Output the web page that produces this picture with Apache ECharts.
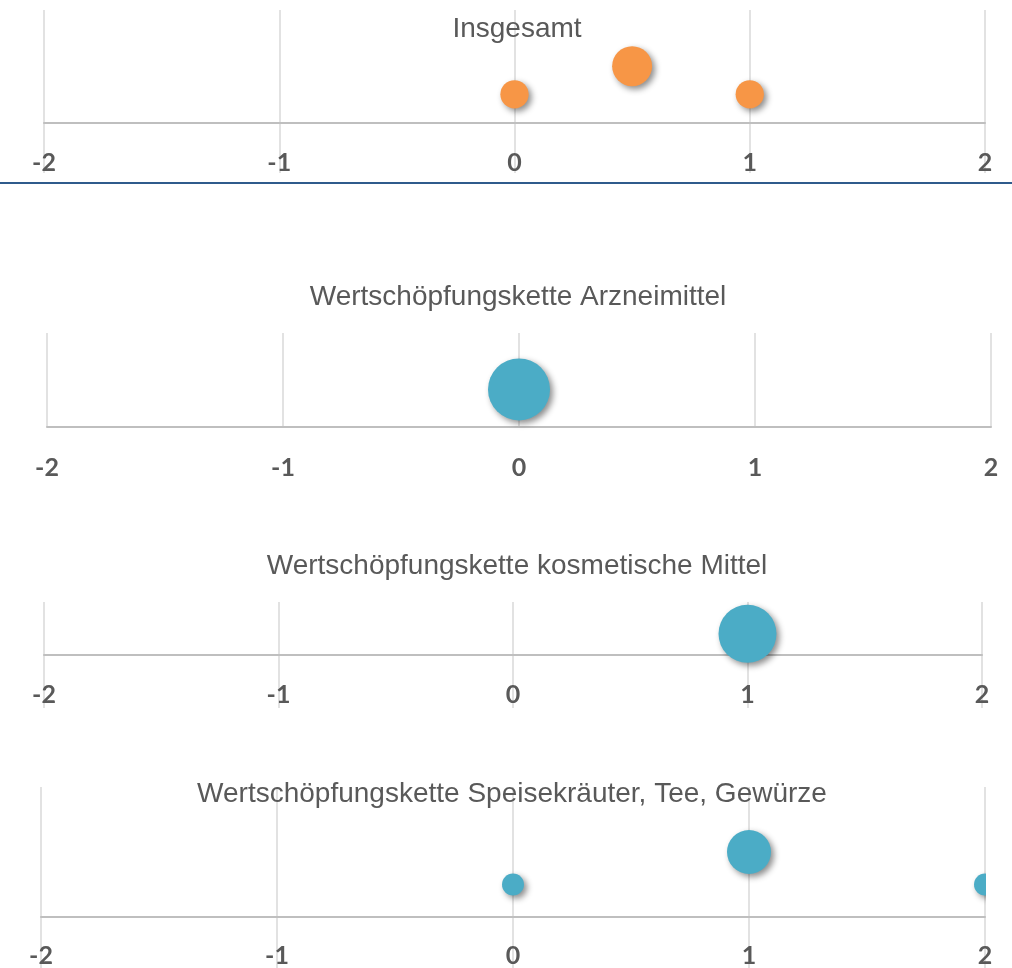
<!DOCTYPE html>
<html>
<head>
<meta charset="utf-8">
<script src="https://cdn.jsdelivr.net/npm/echarts@6/dist/echarts.min.js"></script>
<style>
  html, body { margin: 0; padding: 0; background: #fff; }
  #chart { width: 1012px; height: 968px; }
</style>
</head>
<body>
<div id="chart"></div>
<script>
// Daten
var titles = [
  "Insgesamt",
  "Wertschöpfungskette Arzneimittel",
  "Wertschöpfungskette kosmetische Mittel",
  "Wertschöpfungskette Speisekräuter, Tee, Gewürze"
];
var xTicks = [-2, -1, 0, 1, 2];

var insgesamtX = [0, 0.5, 1];
var insgesamtY = [1, 2, 1];
var insgesamtSize = [1, 2, 1];

var arzneiX = [0];
var arzneiY = [1];
var arzneiSize = [1];

var kosmetikX = [1];
var kosmetikY = [1];
var kosmetikSize = [1];

var speiseX = [0, 1, 2];
var speiseY = [1, 2, 1];
var speiseSize = [1, 4, 1];

var myChart = echarts.init(document.getElementById("chart"));

// Layout je Panel (margin relativ zum unteren Rand des grids)
var panels = [
  { x: insgesamtX, y: insgesamtY, s: insgesamtSize, color: "#F79646",
    grid: { left: 44, top: 10, width: 941, height: 163 }, ymin: -1.8, ymax: 4,
    maxD: 40, titleTop: 15, titleX: 517, margin: -23 },
  { x: arzneiX, y: arzneiY, s: arzneiSize, color: "#4BACC6",
    grid: { left: 47, top: 333, width: 944, height: 94 }, ymin: 0, ymax: 2.5,
    maxD: 62, titleTop: 283, titleX: 518, margin: 28 },
  { x: kosmetikX, y: kosmetikY, s: kosmetikSize, color: "#4BACC6",
    grid: { left: 44, top: 602, width: 938, height: 106 }, ymin: -2.5, ymax: 2.5,
    maxD: 58, titleTop: 552, titleX: 517, margin: -26 },
  { x: speiseX, y: speiseY, s: speiseSize, color: "#4BACC6",
    grid: { left: 41, top: 787, width: 944, height: 195 }, ymin: -2, ymax: 4,
    maxD: 44, titleTop: 780, titleX: 512, margin: -39 }
];

var option = { title: [], grid: [], xAxis: [], yAxis: [], series: [] };

panels.forEach(function(p, i) {
  var maxS = Math.max.apply(null, p.s);
  option.title.push({
    text: titles[i],
    left: p.titleX,
    top: p.titleTop,
    textAlign: "center",
    padding: 0,
    textStyle: { fontFamily: "Liberation Sans", fontSize: 28, fontWeight: "normal", color: "#595959" }
  });
  option.grid.push(Object.assign({ containLabel: false, outerBoundsMode: "none" }, p.grid));
  option.xAxis.push({
    type: "value",
    gridIndex: i,
    min: xTicks[0],
    max: xTicks[xTicks.length - 1],
    interval: 1,
    axisLine: { show: true, onZero: true, lineStyle: { color: "#bfbfbf", width: 2 } },
    axisTick: { show: false },
    axisLabel: {
      margin: p.margin,
      color: "#595959",
      fontFamily: "Lato",
      fontWeight: "bold",
      fontSize: 25,
      showMinLabel: true,
      showMaxLabel: true
    },
    splitLine: { show: true, lineStyle: { color: "#d9d9d9", width: 1.5 } }
  });
  option.yAxis.push({
    type: "value",
    gridIndex: i,
    min: p.ymin,
    max: p.ymax,
    show: false
  });
  option.series.push({
    type: "scatter",
    xAxisIndex: i,
    yAxisIndex: i,
    data: p.x.map(function(v, k) { return [v, p.y[k], p.s[k]]; }),
    symbolSize: function(d) { return p.maxD * Math.sqrt(d[2] / maxS); },
    itemStyle: {
      color: p.color,
      opacity: 1,
      shadowBlur: 6,
      shadowColor: "rgba(0,0,0,0.45)",
      shadowOffsetX: 3,
      shadowOffsetY: 3
    }
  });
});

option.graphic = [
  // Trennlinie unter dem ersten Diagramm
  {
    type: "line",
    shape: { x1: 0, y1: 183, x2: 1012, y2: 183 },
    style: { stroke: "#2f5b8c", lineWidth: 2 },
    z: 100
  },
  // rechter Plotrand im letzten Diagramm schneidet die Blase ab
  {
    type: "rect",
    shape: { x: 986, y: 860, width: 26, height: 50 },
    style: { fill: "#fff" },
    z: 100
  }
];

myChart.setOption(option);
</script>
</body>
</html>
